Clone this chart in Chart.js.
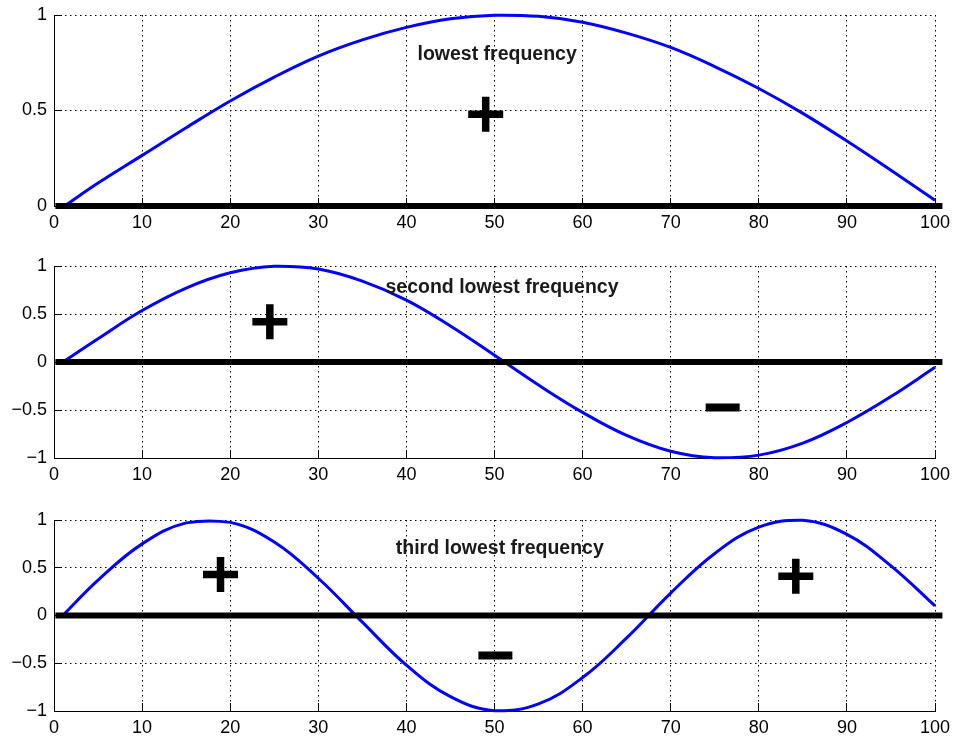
<!DOCTYPE html>
<html>
<head>
<meta charset="utf-8">
<script src="https://cdn.jsdelivr.net/npm/chart.js@4.4.1/dist/chart.umd.min.js"></script>
<style>
  body { margin: 0; background: #fff; width: 953px; height: 738px; overflow: hidden; position: relative; }
  canvas { position: absolute; left: 0; }
</style>
</head>
<body>
<canvas id="c1" width="953" height="240" style="top:0px"></canvas>
<canvas id="c2" width="953" height="247" style="top:245px"></canvas>
<canvas id="c3" width="953" height="255" style="top:490px"></canvas>
<script>
// values
const xs1 = [1.2, 5, 10, 15, 20, 25, 30, 35, 40, 45, 50, 55, 60, 65, 70, 75, 80, 85, 90, 95, 100];
const ys1 = [0, 0.12, 0.265, 0.41, 0.55, 0.675, 0.785, 0.87, 0.935, 0.98, 0.999, 0.993, 0.962, 0.905, 0.83, 0.73, 0.615, 0.485, 0.34, 0.187, 0.03];

const xs2 = [1, 5, 10, 15, 20, 25, 30, 35, 40, 45, 50, 55, 60, 65, 70, 75, 80, 85, 90, 95, 100];
const ys2 = [0, 0.243, 0.536, 0.77, 0.929, 0.998, 0.969, 0.843, 0.645, 0.375, 0.07, -0.24, -0.525, -0.765, -0.93, -0.998, -0.97, -0.845, -0.63, -0.36, -0.055];

const xs3 = [1, 5, 10, 15, 20, 25, 30, 35, 40, 45, 50, 55, 60, 65, 70, 75, 80, 85, 90, 95, 100];
const ys3 = [0, 0.37, 0.75, 0.97, 0.975, 0.77, 0.39, -0.07, -0.52, -0.85, -0.997, -0.925, -0.65, -0.235, 0.235, 0.65, 0.925, 0.997, 0.85, 0.52, 0.1];

const titles = ['lowest frequency', 'second lowest frequency', 'third lowest frequency'];
const titlePos = [[50.3, 0.79], [50.85, 0.77], [50.6, 0.705]];

const plus1 = [[49, 0.48]];
const minus1 = [];
const plus2 = [[24.5, 0.42]];
const minus2 = [[75.9, -0.475]];
const plus3 = [[18.9, 0.43], [84.2, 0.41]];
const minus3 = [[50.1, -0.42]];

const xTicks = [0, 10, 20, 30, 40, 50, 60, 70, 80, 90, 100];
const zeroLine = [0.5, 100.5];

Chart.defaults.font.family = "'Liberation Sans', Arial, sans-serif";
Chart.defaults.font.size = 18;
Chart.defaults.color = '#000';

const textPlugin = {
  id: 'panelText',
  afterDatasetsDraw(chart, args, opts) {
    const ctx = chart.ctx;
    const xs = chart.scales.x, ys = chart.scales.y;
    ctx.save();
    ctx.font = "bold 19.5px 'Liberation Sans', Arial, sans-serif";
    ctx.fillStyle = '#1a1a1a';
    ctx.textAlign = 'center';
    ctx.textBaseline = 'middle';
    ctx.fillText(opts.text, xs.getPixelForValue(opts.x), ys.getPixelForValue(opts.y));
    ctx.restore();
  }
};

function toPts(xs, ys) {
  return xs.map((x, i) => ({ x: x, y: ys[i] }));
}

function makePanel(id, xs, ys, yMin, topPad, plus, minus, idx) {
  const gridOpts = {
    color: '#000',
    lineWidth: 1,
    tickLength: -8,
    tickColor: '#000',
    tickWidth: 1,
    tickBorderDash: []
  };
  const borderOpts = { display: true, color: '#000', width: 1, dash: [1.5, 3.5] };

  new Chart(document.getElementById(id), {
    type: 'scatter',
    data: {
      datasets: [
        {
          data: plus.map(p => ({ x: p[0], y: p[1] })),
          pointStyle: 'cross',
          pointRadius: 17.5,
          pointBorderWidth: 7.5,
          pointBorderColor: '#000',
          pointBackgroundColor: '#000',
          clip: false
        },
        {
          data: minus.map(p => ({ x: p[0], y: p[1] })),
          pointStyle: 'line',
          pointRadius: 17,
          pointBorderWidth: 8,
          pointBorderColor: '#000',
          clip: false
        },
        {
          data: zeroLine.map(x => ({ x: x, y: 0 })),
          showLine: true,
          borderColor: '#000',
          borderWidth: 6,
          borderCapStyle: 'square',
          pointRadius: 0,
          clip: false
        },
        {
          data: toPts(xs, ys),
          showLine: true,
          borderColor: '#0000ff',
          borderWidth: 3,
          tension: 0.4,
          pointRadius: 0,
          clip: 4
        }
      ]
    },
    options: {
      responsive: false,
      animation: false,
      events: [],
      layout: { autoPadding: false, padding: { top: topPad, right: 18, bottom: 0, left: 0 } },
      plugins: {
        legend: { display: false },
        tooltip: { enabled: false },
        panelText: { text: titles[idx], x: titlePos[idx][0], y: titlePos[idx][1] }
      },
      scales: {
        x: {
          type: 'linear',
          min: 0,
          max: 100,
          afterBuildTicks: s => { s.ticks = xTicks.map(v => ({ value: v })); },
          afterFit: s => { s.height = 34; s.paddingLeft = 0; s.paddingRight = 0; },
          grid: gridOpts,
          border: borderOpts,
          ticks: { padding: 14, maxRotation: 0, autoSkip: false, color: '#000' }
        },
        y: {
          min: yMin,
          max: 1,
          afterFit: s => { s.width = 54; s.paddingTop = 0; s.paddingBottom = 0; },
          grid: gridOpts,
          border: borderOpts,
          ticks: {
            stepSize: 0.5,
            padding: 15,
            color: '#000',
            callback: v => (v < 0 ? '\u2212' + Math.abs(v) : String(v))
          }
        }
      }
    },
    plugins: [textPlugin]
  });
}

makePanel('c1', xs1, ys1, 0, 15, plus1, minus1, 0);
makePanel('c2', xs2, ys2, -1, 21, plus2, minus2, 1);
makePanel('c3', xs3, ys3, -1, 30, plus3, minus3, 2);
</script>
</body>
</html>
